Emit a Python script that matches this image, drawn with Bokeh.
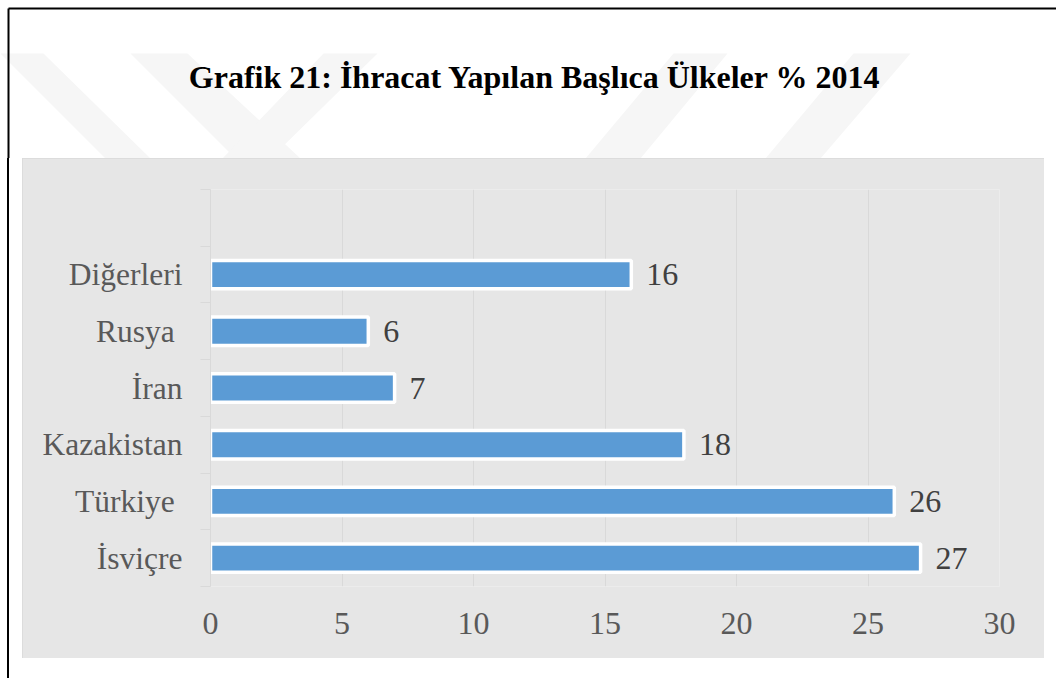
from bokeh.plotting import figure
from bokeh.models import ColumnDataSource, FixedTicker, LabelSet, Range1d, Div
from bokeh.layouts import column, row
from bokeh.core.properties import value
from bokeh.embed import file_html
from bokeh.resources import INLINE

# ---- data ----
categories = ["İsviçre", "Türkiye ", "Kazakistan", "İran", "Rusya ", "Diğerleri"]
values = [27, 26, 18, 7, 6, 16]
x_ticks = [0, 5, 10, 15, 20, 25, 30]
title_text = "Grafik 21: İhracat Yapılan Başlıca Ülkeler % 2014"

FONT = "Liberation Serif"
GRID = "#d9d9d9"
CHART_BG = "#e6e6e6"

# ---------------- header (white area, title, frame lines, watermark) ----------------
HW, HH = 1056, 158
t = figure(width=HW, height=HH, x_range=Range1d(0, HW), y_range=Range1d(HH, 0),
           x_axis_type=None, y_axis_type=None, output_backend="svg",
           toolbar_location=None, min_border=0)
t.title.visible = False
t.outline_line_color = None
t.background_fill_color = "white"
t.border_fill_color = "white"

# faint watermark bands
wm_xs = [[0, 43, 150, 105], [130, 187, 300, 235], [323, 377, 270, 222],
         [673, 727, 640, 585], [853, 910, 820, 765]]
wm_ys = [[53, 53, 158, 158]] * len(wm_xs)
t.patches(wm_xs, wm_ys, fill_color="#f6f6f6", line_color=None)

# frame lines
t.segment(x0=[8, 8], y0=[8, 8], x1=[HW, 8], y1=[8, HH], line_color="black", line_width=2)

# title
t.text(x=[534.5], y=[76], text=[title_text], text_align="center", text_baseline="middle",
       text_font=value(FONT), text_font_style="bold", text_font_size="32px",
       text_color="black")

# ---------------- left strip with frame line ----------------
strip = Div(text='<div style="margin:0 0 0 7px;width:2px;height:520px;background:#000"></div>',
            width=22, height=520, margin=0)

# ---------------- main chart ----------------
PW, PH = 1022, 500
ypos = [i + 0.5 for i in range(len(categories))]
source = ColumnDataSource(dict(y=ypos, value=values, cat=categories,
                               label=[str(v) for v in values]))

p = figure(width=PW, height=PH, x_range=Range1d(0, 30), y_range=Range1d(0, 7),
           output_backend="svg", toolbar_location=None,
           min_border_left=188, min_border_right=45,
           min_border_top=31, min_border_bottom=72)
p.styles = {"outline": "1px solid #d9d9d9", "outline-offset": "-1px"}
p.title.visible = False
p.border_fill_color = CHART_BG
p.background_fill_color = CHART_BG
p.outline_line_color = None

p.xgrid.ticker = FixedTicker(ticks=x_ticks)
p.xgrid.grid_line_color = GRID
p.xgrid.grid_line_width = 1
p.ygrid.visible = False

xa = p.xaxis[0]
xa.ticker = FixedTicker(ticks=x_ticks)
xa.axis_line_color = None
xa.major_tick_line_color = None
xa.minor_tick_line_color = None
xa.major_label_standoff = 20
xa.major_label_text_font = FONT
xa.major_label_text_font_size = "32px"
xa.major_label_text_color = "#595959"

ya = p.yaxis[0]
ya.ticker = FixedTicker(ticks=ypos, minor_ticks=list(range(len(categories) + 2)))
ya.major_label_overrides = {y: c for y, c in zip(ypos, categories)}
ya.axis_line_color = GRID
ya.major_tick_line_color = None
ya.major_tick_out = 0
ya.major_tick_in = 0
ya.minor_tick_line_color = GRID
ya.minor_tick_out = 10
ya.minor_tick_in = 0
ya.major_label_standoff = 18
ya.major_label_text_font = FONT
ya.major_label_text_font_size = "31.5px"
ya.major_label_text_color = "#595959"

p.hbar(y="y", left=0, right="value", height=0.5, source=source,
       fill_color="#5b9bd5", line_color="white", line_width=3.5)

p.add_layout(LabelSet(x="value", y="y", text="label", source=source,
                      x_offset=15, text_baseline="middle", text_align="left",
                      text_font=FONT, text_font_size="32px", text_color="#404040"))

layout = column(t, row(strip, p))
open("out.html", "w").write(file_html(layout, INLINE))
